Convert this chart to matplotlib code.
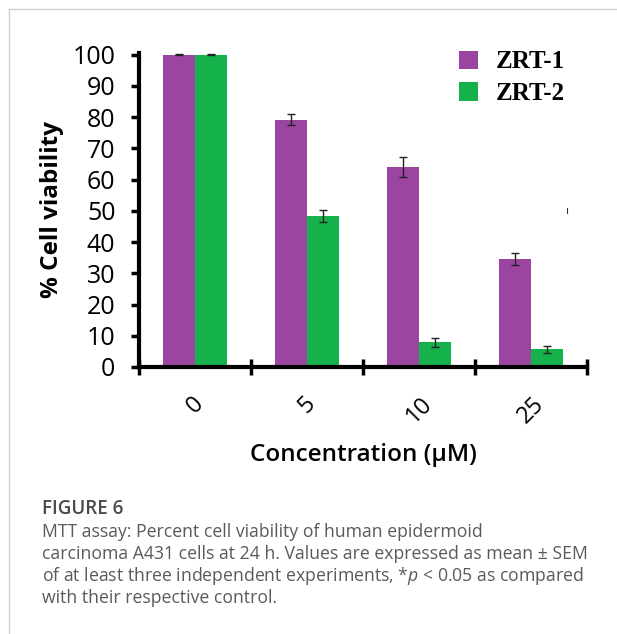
import numpy as np
import matplotlib.pyplot as plt
from matplotlib.lines import Line2D

# dữ liệu
concentrations = ['0', '5', '10', '25']
zrt1 = [100, 79.2, 64.1, 34.6]
zrt1_err = [0.3, 1.7, 3.2, 1.8]
zrt2 = [100, 48.3, 7.9, 5.7]
zrt2_err = [0.3, 1.8, 1.4, 1.1]
series_names = ['ZRT-1', 'ZRT-2']

purple = '#9c45a0'
green = '#15b14b'

plt.rcParams['mathtext.fontset'] = 'custom'
plt.rcParams['mathtext.it'] = 'Open Sans:italic'
plt.rcParams['mathtext.rm'] = 'Open Sans'

fig = plt.figure(figsize=(6.17, 6.34), dpi=100)

# khung xám quanh hình
fig.add_artist(Line2D([9/617, 9/617], [0, 1 - 9/634], color='#d0d0d0', lw=1))
fig.add_artist(Line2D([9/617, 1], [1 - 9/634, 1 - 9/634], color='#d0d0d0', lw=1))

ax = fig.add_axes([139/617, 1 - 367/634, 448/617, 314/634])

x = np.arange(len(concentrations))
w = 0.29
ax.bar(x - w/2, zrt1, w, color=purple, label=series_names[0], zorder=2)
ax.bar(x + w/2, zrt2, w, color=green, label=series_names[1], zorder=2)
ax.errorbar(x - w/2, zrt1, yerr=zrt1_err, fmt='none', ecolor='#222222',
            elinewidth=1, capsize=3, capthick=1, zorder=3)
ax.errorbar(x + w/2, zrt2, yerr=zrt2_err, fmt='none', ecolor='#222222',
            elinewidth=1, capsize=3, capthick=1, zorder=3)

ax.set_xlim(-0.5, 3.5)
ax.set_ylim(0, 100.5)
ax.set_yticks(range(0, 101, 10))

for s in ['top', 'right']:
    ax.spines[s].set_visible(False)
for s in ['left', 'bottom']:
    ax.spines[s].set_linewidth(3)

tick_font = {'family': 'Open Sans', 'size': 18}
ax.set_yticklabels([str(v) for v in range(0, 101, 10)], fontdict=tick_font)
ax.tick_params(axis='y', direction='out', length=6, width=2.5, pad=11)

# vạch chính ở ranh giới nhóm, nhãn ở giữa nhóm
ax.set_xticks(np.arange(-0.5, 4, 1))
ax.set_xticklabels([])
ax.tick_params(axis='x', which='major', direction='inout', length=12, width=2.5)
ax.set_xticks(x, minor=True)
ax.set_xticklabels(concentrations, minor=True, rotation=45, ha='center',
                   family='Open Sans', size=17)
ax.tick_params(axis='x', which='minor', length=0, pad=18)

ax.set_ylabel('% Cell viability', family='Open Sans', fontsize=17.5,
              fontweight='bold', labelpad=6)
ax.set_xlabel('Concentration (µM)', family='Open Sans', fontsize=17.5,
              fontweight='semibold', labelpad=11)

leg = ax.legend(loc='upper right', bbox_to_anchor=(1.0, 1.08), frameon=False,
                prop={'family': 'Liberation Serif', 'weight': 'bold', 'size': 18},
                handlelength=0.75, handleheight=0.75, handletextpad=0.7,
                labelspacing=0.35)

ax.text(3.33, 50, 'ı', fontsize=8, color='#333333', ha='center', va='center')

# chú thích hình
cap_color = '#5a5a5a'
fig.text(42/617, 1 - 509/634, 'FIGURE 6', family='Open Sans', fontsize=13.5,
         fontweight='semibold', color='#4a4a4a', va='center')
lines = [
    'MTT assay: Percent cell viability of human epidermoid',
    'carcinoma A431 cells at 24 h. Values are expressed as mean ± SEM',
    'of at least three independent experiments, *$\\mathit{p}$ < 0.05 as compared',
    'with their respective control.',
]
for i, t in enumerate(lines):
    fig.text(42/617, 1 - (532 + 22*i)/634, t, family='Open Sans', fontsize=12.7,
             color=cap_color, va='center')

fig.savefig('out.png', dpi=100)
